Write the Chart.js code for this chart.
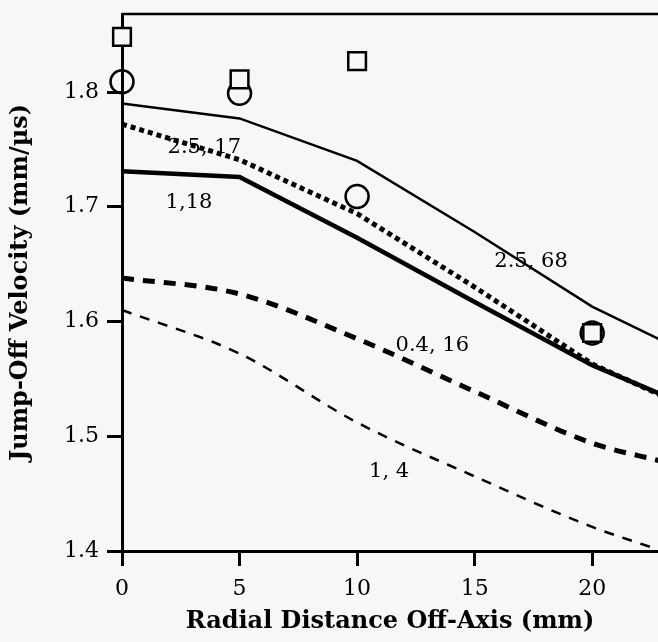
<!DOCTYPE html>
<html>
<head>
<meta charset="utf-8">
<script src="https://cdn.jsdelivr.net/npm/chart.js@4"></script>
<style>
  html, body { margin: 0; padding: 0; background: #f7f7f7; overflow: hidden; }
  #wrap { width: 658px; height: 642px; position: relative; }
  canvas { display: block; }
</style>
</head>
<body>
<div id="wrap"><canvas id="Chart"></canvas></div>
<script>
// radial distance (mm)
const dist = [0, 5, 10, 15, 20, 23];

// calculated curves
const v_25_68 = [1.790, 1.777, 1.740, 1.678, 1.613, 1.583];
const v_25_17 = [1.772, 1.741, 1.694, 1.630, 1.563, 1.535];
const v_1_18 = [1.731, 1.726, 1.673, 1.617, 1.562, 1.536];
const v_04_16 = [1.638, 1.624, 1.585, 1.539, 1.494, 1.478];
const v_1_4 = [1.610, 1.572, 1.512, 1.465, 1.421, 1.400];

// measured points
const sq_x = [0, 5, 10, 20];
const sq_y = [1.848, 1.811, 1.827, 1.590];
const ci_x = [0, 5, 10, 20];
const ci_y = [1.809, 1.799, 1.709, 1.590];

// curve labels
const lab_text = ["2.5, 17", "1,18", "2.5, 68", "0.4, 16", "1, 4"];
const lab_x = [3.5, 2.85, 17.4, 13.2, 11.36];
const lab_y = [1.752, 1.704, 1.652, 1.579, 1.469];

const xTicks = [0, 5, 10, 15, 20];
const yTicks = [1.4, 1.5, 1.6, 1.7, 1.8];

const FONT = "'DejaVu Serif', serif";
const BG = '#f7f7f7';

function pts(xs, ys) {
	return xs.map((x, i) => ({ x: x, y: ys[i] }));
}

function curve(ys, w, dash, smooth) {
	return {
		data: pts(dist, ys),
		borderColor: '#000',
		borderWidth: w,
		borderDash: dash,
		pointRadius: 0,
		tension: 0,
		cubicInterpolationMode: smooth ? 'monotone' : 'default',
		fill: false,
	};
}

// 枠とラベル
const labelPlugin = {
	id: 'labels',
	afterDatasetsDraw(chart) {
		const ctx = chart.ctx;
		const xs = chart.scales.x, ys = chart.scales.y;
		ctx.save();
		ctx.strokeStyle = '#000';
		ctx.lineWidth = 2.5;
		ctx.beginPath();
		ctx.moveTo(chart.chartArea.left, chart.chartArea.top);
		ctx.lineTo(chart.width, chart.chartArea.top);
		ctx.stroke();
		ctx.fillStyle = '#000';
		ctx.font = "21px " + FONT;
		ctx.textAlign = 'center';
		ctx.textBaseline = 'middle';
		for (let i = 0; i < lab_text.length; i++) {
			ctx.fillText(lab_text[i], xs.getPixelForValue(lab_x[i]), ys.getPixelForValue(lab_y[i]));
		}
		ctx.restore();
	}
};

const bgPlugin = {
	id: 'bg',
	beforeDraw(chart) {
		const ctx = chart.ctx;
		ctx.save();
		ctx.fillStyle = BG;
		ctx.fillRect(0, 0, chart.width, chart.height);
		ctx.restore();
	}
};

let lineCtx = document.getElementById("Chart");
let lineConfig = {
	type: 'line',
	data: {
		datasets: [
			curve(v_25_68, 2.5, [], false),
			curve(v_25_17, 5, [5, 4], false),
			curve(v_1_18, 4.5, [], false),
			curve(v_04_16, 5, [12, 9], true),
			curve(v_1_4, 2.5, [10, 9], true),
			{
				data: pts(sq_x, sq_y),
				showLine: false,
				pointStyle: 'rect',
				pointRadius: 12.5,
				pointBorderWidth: 2.5,
				pointBorderColor: '#000',
				pointBackgroundColor: BG,
				clip: false,
			},
			{
				data: pts(ci_x, ci_y),
				showLine: false,
				pointStyle: 'circle',
				pointRadius: 11.5,
				pointBorderWidth: 2.5,
				pointBorderColor: '#000',
				pointBackgroundColor: 'rgba(0,0,0,0)',
				clip: false,
			},
		],
	},
	options: {
		responsive: true,
		maintainAspectRatio: false,
		animation: false,
		layout: { autoPadding: false, padding: { top: 14, right: 0, left: 0, bottom: 0 } },
		plugins: {
			legend: { display: false },
			tooltip: { enabled: false },
		},
		scales: {
			x: {
				type: 'linear',
				min: 0,
				max: 22.8,
				afterFit(s) { s.height = 91; },
				afterBuildTicks(s) { s.ticks = xTicks.map(v => ({ value: v })); },
				grid: { drawOnChartArea: false, tickLength: 15, tickWidth: 3, color: '#000' },
				border: { display: true, width: 3, color: '#000' },
				ticks: { color: '#000', padding: 10, font: { family: FONT, size: 22 }, maxRotation: 0 },
				title: { display: true, text: 'Radial Distance Off-Axis (mm)', color: '#000', font: { family: FONT, size: 24, weight: 'bold' }, padding: { top: 0, bottom: 6 } },
			},
			y: {
				min: 1.4,
				max: 1.868,
				afterFit(s) { s.width = 122; s.paddingTop = 0; s.paddingBottom = 0; },
				afterBuildTicks(s) { s.ticks = yTicks.map(v => ({ value: v })); },
				grid: { drawOnChartArea: false, tickLength: 15, tickWidth: 3, color: '#000' },
				border: { display: true, width: 3, color: '#000' },
				ticks: { color: '#000', padding: 8, font: { family: FONT, size: 22 }, callback: v => v.toFixed(1) },
				title: { display: true, text: 'Jump-Off Velocity (mm/\u00b5s)', color: '#000', font: { family: FONT, size: 24, weight: 'bold' }, padding: { top: 6, bottom: 0 } },
			}
		},
	},
	plugins: [bgPlugin, labelPlugin],
};
let lineChart = new Chart(lineCtx, lineConfig);
</script>
</body>
</html>
